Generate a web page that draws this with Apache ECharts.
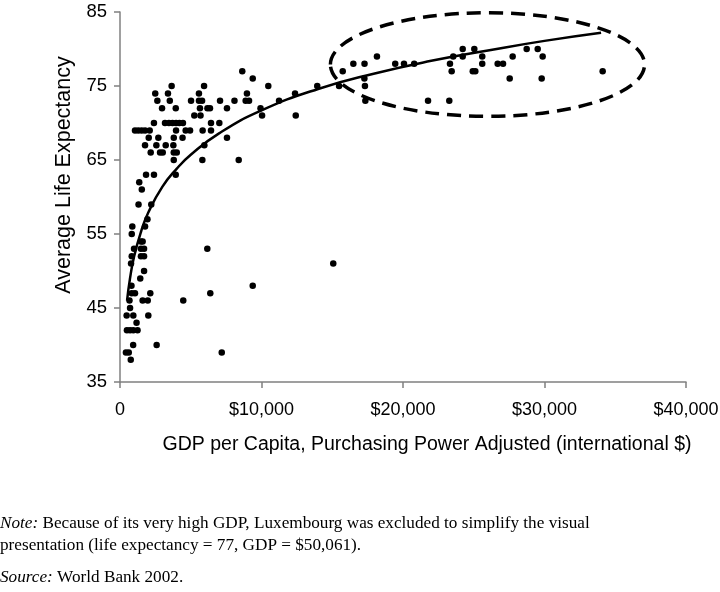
<!DOCTYPE html>
<html><head><meta charset="utf-8">
<script src="https://cdn.jsdelivr.net/npm/echarts@6/dist/echarts.min.js"></script>
<style>html,body{margin:0;padding:0;background:#fff}#c{width:720px;height:592px}</style>
</head><body><div id="c"></div>
<script>
// Countries: GDP per capita (PPP, international $) and average life expectancy
const gdp = [
  24220, 25040, 28740, 29520,
  18160, 23550, 24220, 25600, 27750, 29870,
  16490, 17280, 19450, 20070, 20790, 23320, 25600, 26690, 27070,
  8640, 15740, 23440, 24930, 25110, 34110,
  9380, 17270, 27540, 29800,
  3650, 5940, 10480, 13940, 15480, 17310,
  2490, 3390, 5580, 8970, 12370,
  2640, 3520, 5020, 5580, 5800, 7070, 8090, 8880, 9120, 11240, 17340, 21770, 23270,
  2970, 3940, 5650, 6180, 6360, 7560, 9930,
  5250, 5690, 10040, 12420,
  2400, 3180, 3460, 3710, 3960, 4200, 4450, 6430, 7020,
  1060, 1290, 1530, 1770, 2100, 3960, 4640, 4950, 5840, 6430,
  2030, 2710, 3800, 4420, 7560,
  1770, 2570, 3230, 3770, 5960,
  2170, 2830, 3020, 3800, 4010,
  3800, 5820, 8390,
  1840, 2400, 3940,
  1360, 1540,
  1310, 2210,
  1940,
  870, 1770,
  830,
  1480, 1600,
  990, 1480, 1700, 6170,
  830, 1480, 1700,
  780, 15070,
  1700, 1430,
  810, 9380,
  830, 1060, 2140, 6380,
  670, 1600, 1960, 4470,
  710,
  470, 940, 2000,
  1170,
  490, 710, 940, 1240,
  930, 2590,
  420, 620, 7190,
  760
];
const lifeExp = [
  80, 80, 80, 80,
  79, 79, 79, 79, 79, 79,
  78, 78, 78, 78, 78, 78, 78, 78, 78,
  77, 77, 77, 77, 77, 77,
  76, 76, 76, 76,
  75, 75, 75, 75, 75, 75,
  74, 74, 74, 74, 74,
  73, 73, 73, 73, 73, 73, 73, 73, 73, 73, 73, 73, 73,
  72, 72, 72, 72, 72, 72, 72,
  71, 71, 71, 71,
  70, 70, 70, 70, 70, 70, 70, 70, 70,
  69, 69, 69, 69, 69, 69, 69, 69, 69, 69,
  68, 68, 68, 68, 68,
  67, 67, 67, 67, 67,
  66, 66, 66, 66, 66,
  65, 65, 65,
  63, 63, 63,
  62, 61,
  59, 59,
  57,
  56, 56,
  55,
  54, 54,
  53, 53, 53, 53,
  52, 52, 52,
  51, 51,
  50, 49,
  48, 48,
  47, 47, 47, 47,
  46, 46, 46, 46,
  45,
  44, 44, 44,
  43,
  42, 42, 42, 42,
  40, 40,
  39, 39, 39,
  38
];
// Logarithmic trend line
const trendGdp  = [500, 700, 1000, 1500, 2000, 3000, 4000, 5000, 7000, 10000, 14000, 18000, 22000, 26000, 30000, 34000];
const trendLife = [46.0, 48.9, 52.0, 55.4, 57.9, 61.4, 63.8, 65.7, 68.6, 71.7, 74.6, 76.7, 78.4, 79.8, 81.1, 82.2];
// Axis ranges
const xMin = 0, xMax = 40000, xStep = 10000;
const yMin = 35, yMax = 85, yStep = 10;
// Dashed ellipse annotation (data units): center and radii
const ellipseCenter = [25970, 77.9];
const ellipseRadius = [11100, 7.0];

const points = gdp.map((g, i) => [g, lifeExp[i]]);
const trend = trendGdp.map((g, i) => [g, trendLife[i]]);

const sans = '"Liberation Sans", Arial, Helvetica, sans-serif';
const serif = '"Liberation Serif", "Times New Roman", serif';

const chart = echarts.init(document.getElementById('c'), null, {renderer: 'canvas'});
chart.setOption({
  animation: false,
  backgroundColor: '#fff',
  grid: {left: 120, right: 34, top: 12, bottom: 210, containLabel: false, outerBoundsMode: 'none'},
  xAxis: {
    type: 'value', min: xMin, max: xMax, interval: xStep,
    name: 'GDP per Capita, Purchasing Power Adjusted (international $)',
    nameLocation: 'middle', nameGap: 53,
    nameTextStyle: {fontFamily: sans, fontSize: 19.5, color: '#000', padding: [0, 0, 0, 48]},
    axisLine: {lineStyle: {color: '#808080', width: 1.5}},
    axisTick: {show: true, inside: false, length: 6, lineStyle: {color: '#808080', width: 1.5}},
    axisLabel: {fontFamily: sans, fontSize: 18, color: '#000', margin: 19,
      formatter: v => v === 0 ? '0' : '$' + v.toLocaleString('en-US')},
    splitLine: {show: false}
  },
  yAxis: {
    type: 'value', min: yMin, max: yMax, interval: yStep,
    name: 'Average Life Expectancy',
    nameLocation: 'middle', nameGap: 43, nameRotate: 90,
    nameTextStyle: {fontFamily: sans, fontSize: 21.5, color: '#000', padding: [0, 0, 0, 44]},
    axisLine: {show: true, lineStyle: {color: '#808080', width: 1.5}},
    axisTick: {show: true, inside: false, length: 6, lineStyle: {color: '#808080', width: 1.5}},
    axisLabel: {fontFamily: sans, fontSize: 18.5, color: '#000', margin: 13},
    splitLine: {show: false}
  },
  series: [
    {type: 'scatter', data: points, symbol: 'circle', symbolSize: 6.5,
     itemStyle: {color: '#000', opacity: 1}, z: 3},
    {type: 'line', data: trend, smooth: true, showSymbol: false, symbol: 'none',
     lineStyle: {color: '#000', width: 2.5}, z: 2}
  ]
});

const c0 = chart.convertToPixel({gridIndex: 0}, ellipseCenter);
const cx = chart.convertToPixel({gridIndex: 0}, [ellipseCenter[0] + ellipseRadius[0], ellipseCenter[1] + ellipseRadius[1]]);
chart.setOption({
  graphic: [
    {type: 'ellipse', shape: {cx: c0[0], cy: c0[1], rx: Math.abs(cx[0] - c0[0]), ry: Math.abs(c0[1] - cx[1])},
     style: {fill: null, stroke: '#000', lineWidth: 3.5, lineDash: [14, 8]}, z: 10, silent: true},
    {type: 'text', left: 0, top: 512,
     style: {text: '{i|Note:} Because of its very high GDP, Luxembourg was excluded to simplify the visual\npresentation (life expectancy = 77, GDP = $50,061).',
       font: '17.2px ' + serif, fill: '#000', lineHeight: 22,
       rich: {i: {fontStyle: 'italic', fontFamily: serif, fontSize: 17.2, lineHeight: 22}}}},
    {type: 'text', left: 0, top: 566,
     style: {text: '{i|Source:} World Bank 2002.', font: '17.2px ' + serif, fill: '#000', lineHeight: 22,
       rich: {i: {fontStyle: 'italic', fontFamily: serif, fontSize: 17.2, lineHeight: 22}}}}
  ]
});
</script>
</body></html>
